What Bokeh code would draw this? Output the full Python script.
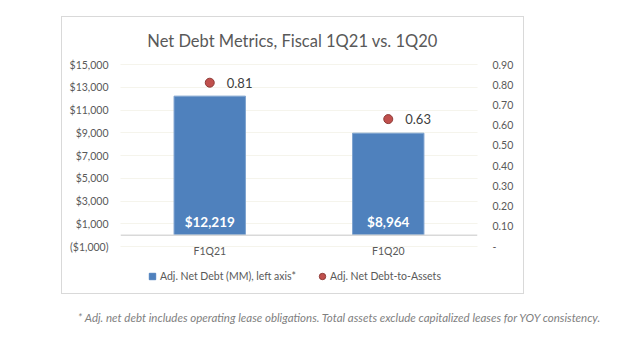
import numpy as np
from bokeh.plotting import figure
from bokeh.layouts import column
from bokeh.models import (Range1d, LinearAxis, FixedTicker, NumeralTickFormatter, Span,
                          Label, Legend, LegendItem, ColumnDataSource, FactorRange, Div)
from bokeh.core.properties import value
from bokeh.embed import file_html
from bokeh.resources import INLINE

# ---- data ----
quarters = ["F1Q21", "F1Q20"]
net_debt = [12219, 8964]
debt_to_assets = [0.81, 0.63]
left_ticks = [-1000, 1000, 3000, 5000, 7000, 9000, 11000, 13000, 15000]
right_ticks = [0.0, 0.1, 0.2, 0.3, 0.4, 0.5, 0.6, 0.7, 0.8, 0.9]
series_names = ["Adj. Net Debt (MM), left axis*", "Adj. Net Debt-to-Assets"]
title_text = "Net Debt Metrics, Fiscal 1Q21 vs. 1Q20"
footnote_text = ("* Adj. net debt includes operating lease obligations. "
                 "Total assets exclude capitalized leases for YOY consistency.")

FONT = "Lato"
BAR = "#4f81bd"
DOT = "#c0504d"
GRAY = "#595959"

# layout geometry (pixels)
BOX_W, BOX_H = 461, 276
AXIS_PX = 182          # height of the tick span on screen
PAD_PX = 47            # extra frame above top tick / below bottom tick

def padded(lo, hi):
    span = hi - lo
    pad = span * PAD_PX / AXIS_PX
    return lo - pad, hi + pad

src = ColumnDataSource(dict(
    q=quarters,
    debt=net_debt,
    ratio=debt_to_assets,
    debt_label=[f"${v:,}" for v in net_debt],
    ratio_label=[f"{v:.2f}" for v in debt_to_assets],
))

ly0, ly1 = padded(left_ticks[0], left_ticks[-1])
ry0, ry1 = padded(right_ticks[0], right_ticks[-1])

p = figure(width=BOX_W, height=BOX_H, x_range=FactorRange(factors=quarters),
           y_range=Range1d(ly0, ly1), output_backend="svg", toolbar_location=None,
           min_border_left=58, min_border_right=46, min_border_top=0, min_border_bottom=0,
           margin=(17, 0, 0, 62))
p.styles = {"outline": "1px solid #d9d9d9"}
p.outline_line_color = None
p.background_fill_color = "white"
p.border_fill_color = "white"
p.extra_y_ranges = {"right": Range1d(ry0, ry1)}

# grid
p.xgrid.grid_line_color = None
p.ygrid.ticker = FixedTicker(ticks=left_ticks)
p.ygrid.grid_line_color = "#ebe8d8"
p.ygrid.grid_line_dash = "1 1"
p.ygrid.grid_line_width = 1

# left axis
ya = p.yaxis[0]
ya.ticker = FixedTicker(ticks=left_ticks)
ya.formatter = NumeralTickFormatter(format="$0,0")
ya.major_label_overrides = {-1000: "($1,000)"}
ya.axis_line_color = None
ya.major_tick_line_color = None
ya.minor_tick_line_color = None
ya.major_tick_out = 0
ya.major_tick_in = 0
ya.major_label_standoff = 12
ya.major_label_text_font = FONT
ya.major_label_text_font_size = "10.5px"
ya.major_label_text_color = GRAY

# right axis
ra = LinearAxis(y_range_name="right", ticker=FixedTicker(ticks=right_ticks),
                formatter=NumeralTickFormatter(format="0.00"))
ra.major_label_overrides = {0: "-"}
ra.axis_line_color = None
ra.major_tick_line_color = None
ra.minor_tick_line_color = None
ra.major_tick_out = 0
ra.major_tick_in = 0
ra.major_label_standoff = 15
ra.major_label_text_font = FONT
ra.major_label_text_font_size = "10.5px"
ra.major_label_text_color = GRAY
p.add_layout(ra, "right")

# category axis hidden; category labels drawn on the categorical scale
p.xaxis.visible = False
p.text(x="q", y=left_ticks[0], text="q", source=src, text_color=GRAY,
       text_font=value(FONT), text_font_size="10.5px", text_align="center",
       text_baseline="middle", y_offset=4)

# baseline at zero
p.add_layout(Span(location=0, dimension="width", line_color="#d9d9d9", line_width=1.5))

# bars
p.vbar(x="q", top="debt", bottom=0, width=0.4, source=src, fill_color=BAR,
       line_color="#7fa3cf", line_width=1)
p.text(x="q", y=0, text="debt_label", source=src, text_color="white",
       text_font=value(FONT), text_font_style="bold", text_font_size="13.5px",
       text_align="center", text_baseline="middle", y_offset=-13)

# dots
p.scatter(x="q", y="ratio", source=src, y_range_name="right", size=9,
          fill_color=DOT, line_color="#8f3b37", line_width=1)
p.text(x="q", y="ratio", text="ratio_label", source=src, y_range_name="right",
       text_color="#404040", text_font=value(FONT), text_font_size="13px",
       text_align="left", text_baseline="middle", x_offset=17)

# title (inside the chart box)
p.add_layout(Label(x=1.0, y=left_ticks[-1], x_offset=-6.5, y_offset=24, text=title_text,
                   text_align="center", text_baseline="middle", text_font=FONT,
                   text_font_size="16.5px", text_color=GRAY))

# legend via proxy renderers (one hidden NaN point each, so the legend glyph draws)
proxy = ColumnDataSource(dict(x=[quarters[0]], y=np.array([np.nan])))
leg_bar = p.scatter(x="x", y="y", source=proxy, marker="square", size=7,
                    fill_color=BAR, line_color=BAR)
leg_dot = p.scatter(x="x", y="y", source=proxy, marker="circle", size=7,
                    fill_color=DOT, line_color="#8f3b37")
legend = Legend(items=[LegendItem(label=series_names[0], renderers=[leg_bar]),
                       LegendItem(label=series_names[1], renderers=[leg_dot])],
                orientation="horizontal", location=(24, 9), glyph_width=16, glyph_height=16,
                label_standoff=0, spacing=18, padding=0, margin=0,
                border_line_color=None, background_fill_alpha=0,
                label_text_font=FONT, label_text_font_size="10.5px", label_text_color=GRAY)
p.add_layout(legend)

foot = Div(text=footnote_text, width=526, margin=(18, 0, 0, 76),
           styles={"text-align": "center", "font-family": FONT, "font-style": "italic",
                   "font-size": "11.5px", "color": "#7f7f7f", "white-space": "nowrap",
                   "line-height": "14px"})

root = column(p, foot, spacing=0)
open("out.html", "w").write(file_html(root, INLINE))
